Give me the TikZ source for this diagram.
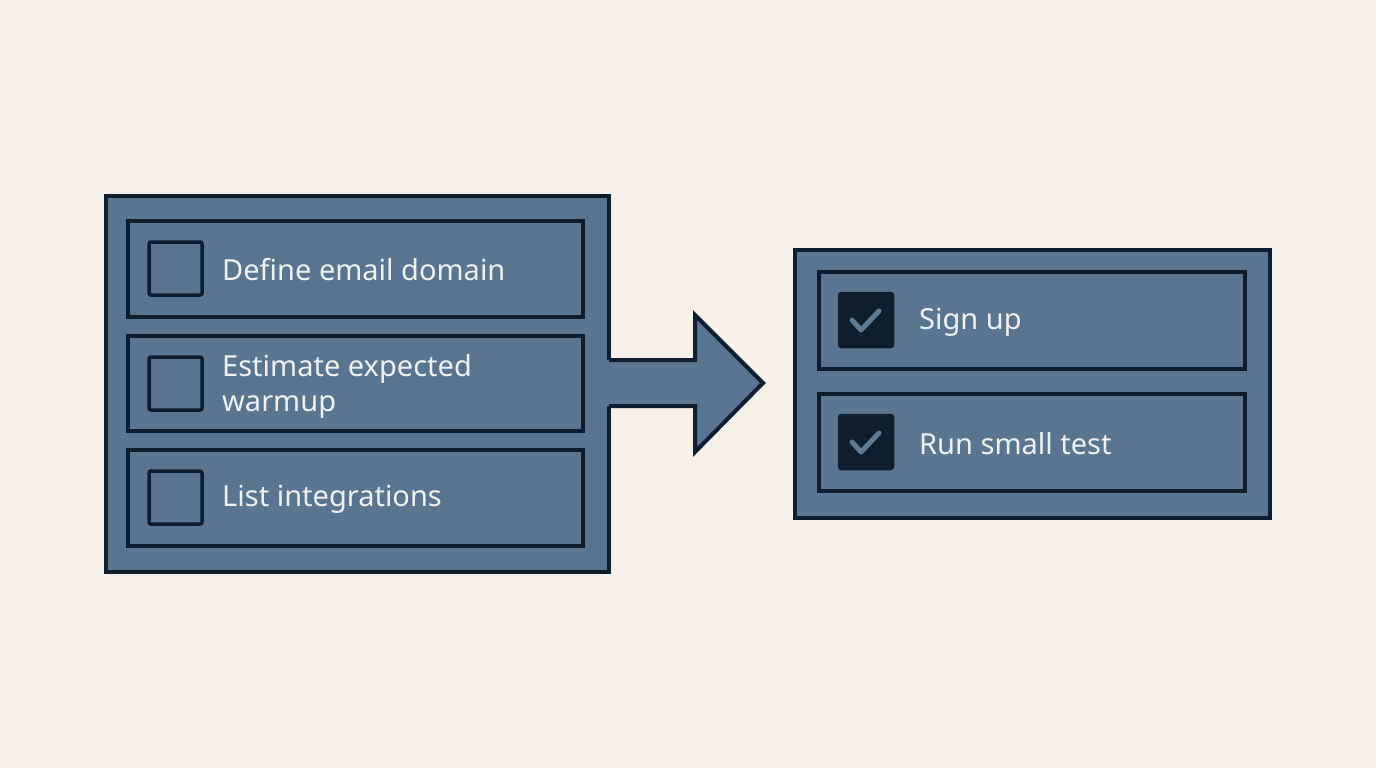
\documentclass[tikz,border=0pt]{standalone}
\usepackage{fontspec}
\setmainfont{Noto Sans}
\definecolor{bg}{HTML}{F3F0E9}
\definecolor{boxfill}{HTML}{5A7590}
\definecolor{ink}{HTML}{0F1E2E}
\definecolor{txt}{HTML}{EEF1F2}
\definecolor{tick}{HTML}{5F7A94}
\begin{document}
\begin{tikzpicture}[x=1pt,y=-1pt,
  outer/.style={draw=ink,fill=boxfill,line width=4pt,rectangle,inner sep=0pt},
  rowbox/.style={draw=ink,fill=boxfill,line width=3.5pt,rectangle,inner sep=0pt,minimum height=96pt},
  cbox/.style={draw=ink,fill=boxfill,line width=3.5pt,rounded corners=2pt,minimum width=53pt,minimum height=53pt,inner sep=0pt},
  cboxdone/.style={cbox,fill=ink},
  label/.style={text=txt,font=\fontsize{29}{35}\selectfont,anchor=west,align=left,inner sep=0pt},
  tickmark/.style={draw=tick,line width=5pt,line cap=round,line join=round}
]
\fill[bg] (0,0) rectangle (1376,768);
\useasboundingbox (0,0) rectangle (1376,768);
% left group
\node[outer,minimum width=503pt,minimum height=376pt] (L) at (357.5,384) {};
\node[rowbox,minimum width=455pt] (r1) at (355.5,269) {};
\node[rowbox,minimum width=455pt,minimum height=95pt] (r2) at (355.5,383.5) {};
\node[rowbox,minimum width=455pt] (r3) at (355.5,498) {};
\node[cbox] (c1) at (175.5,268.5) {};
\node[cbox] (c2) at (175.5,383.5) {};
\node[cbox] (c3) at (175.5,497.5) {};
\node[label] (t1) at (222,270) {Define email domain};
\node[label] (t2) at (222,386) {Estimate expected\\warmup};
\node[label] (t3) at (222,499) {List integrations};
% arrow
\coordinate (a0) at (609,360);
\coordinate (a1) at (695,360);
\coordinate (a2) at (695,315);
\coordinate (tip) at (763,383);
\coordinate (a4) at (695,452);
\coordinate (a5) at (695,406);
\coordinate (a6) at (609,406);
\fill[boxfill] (605,360) -- (a1) -- (a2) -- (tip) -- (a4) -- (a5) -- (605,406) -- cycle;
\draw[ink,line width=4pt,line join=miter] (a0) -- (a1) -- (a2) -- (tip) -- (a4) -- (a5) -- (a6);
% right group
\node[outer,minimum width=475pt,minimum height=268pt] (R) at (1032.5,384) {};
\node[rowbox,minimum width=426pt,minimum height=97pt] (s1) at (1032,320.5) {};
\node[rowbox,minimum width=426pt,minimum height=97pt] (s2) at (1032,442.5) {};
\node[cboxdone] (d1) at (866,320) {};
\node[cboxdone] (d2) at (866,442) {};
\draw[tickmark] ([shift={(-14,0)}]d1.center) -- ([shift={(-5,10)}]d1.center) -- ([shift={(13,-9)}]d1.center);
\draw[tickmark] ([shift={(-14,0)}]d2.center) -- ([shift={(-5,10)}]d2.center) -- ([shift={(13,-9)}]d2.center);
\node[label] (u1) at (919,322) {Sign up};
\node[label] (u2) at (919,444) {Run small test};
\end{tikzpicture}
\end{document}
